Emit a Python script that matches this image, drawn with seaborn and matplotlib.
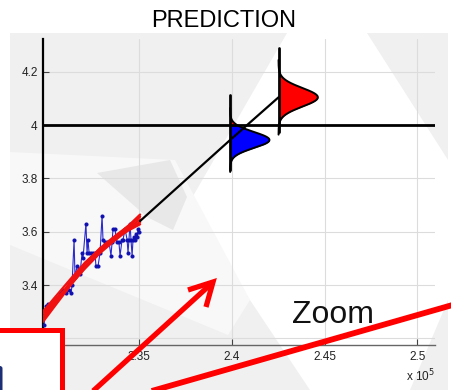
import numpy as np
import pandas as pd
import matplotlib
matplotlib.use("Agg")
import matplotlib.pyplot as plt
from matplotlib.patches import Polygon, Rectangle, FancyBboxPatch
import seaborn as sns

sns.set_theme(style="white")
plt.rcParams["font.family"] = ["Liberation Sans", "DejaVu Sans"]

# ---- data (x in units of 1e5) ----
obs_x = [2.2986, 2.2997, 2.3008, 2.3019, 2.3030, 2.3040, 2.3056, 2.3072, 2.3088, 2.3105,
         2.3121, 2.3132, 2.3137, 2.3148, 2.3153, 2.3164, 2.3175, 2.3180, 2.3191, 2.3196,
         2.3212, 2.3218, 2.3223, 2.3229, 2.3239, 2.3250, 2.3261, 2.3266, 2.3277, 2.3288,
         2.3299, 2.3304, 2.3315, 2.3326, 2.3337, 2.3347, 2.3353, 2.3358, 2.3369, 2.3374,
         2.3380, 2.3390, 2.3396, 2.3407, 2.3412, 2.3423, 2.3434, 2.3439, 2.3444, 2.3450,
         2.3455, 2.3461, 2.3466, 2.3471, 2.3477, 2.3482, 2.3488, 2.3493, 2.3498]
obs_y = [3.25, 3.32, 3.33, 3.32, 3.33, 3.34, 3.35, 3.37, 3.38, 3.37,
         3.38, 3.37, 3.40, 3.57, 3.43, 3.47, 3.46, 3.44, 3.52, 3.50,
         3.63, 3.52, 3.57, 3.52, 3.52, 3.52, 3.52, 3.47, 3.47, 3.52,
         3.66, 3.57, 3.56, 3.56, 3.56, 3.51, 3.56, 3.61, 3.61, 3.58,
         3.56, 3.56, 3.51, 3.57, 3.57, 3.61, 3.57, 3.52, 3.57, 3.63,
         3.57, 3.51, 3.57, 3.58, 3.57, 3.59, 3.58, 3.61, 3.60]

fit_x = [2.2980, 2.3045, 2.3126, 2.3207, 2.3288, 2.3369, 2.3450, 2.3504]
fit_a = [3.262, 3.322, 3.396, 3.466, 3.526, 3.578, 3.628, 3.664]
fit_b = [3.300, 3.354, 3.420, 3.484, 3.536, 3.576, 3.608, 3.628]
fit_c = [3.281, 3.336, 3.404, 3.470, 3.528, 3.576, 3.618, 3.646]
fit_d = [3.270, 3.330, 3.410, 3.480, 3.538, 3.584, 3.626, 3.656]
fit_e = [3.292, 3.344, 3.400, 3.462, 3.520, 3.568, 3.612, 3.636]

trend_x = [2.3504, 2.3990, 2.4251]
trend_y = [3.640, 3.944, 4.104]

dist_x = [2.3990, 2.4251]
dist_mean = [3.944, 4.104]
dist_sd = [0.030, 0.035]
dist_lo = [3.831, 3.974]
dist_hi = [4.112, 4.289]
dist_peak_width = 0.0212
threshold = 4.0

xticks = [2.30, 2.35, 2.40, 2.45, 2.50]
xticklabels = ["2.3", "2.35", "2.4", "2.45", "2.5"]
yticks = [3.2, 3.4, 3.6, 3.8, 4.0, 4.2]
yticklabels = ["3.2", "3.4", "3.6", "3.8", "4", "4.2"]

W, H = 452, 390
fig = plt.figure(figsize=(W / 100, H / 100), dpi=100)
fig.patch.set_facecolor("white")

# ---- slide-style backdrop, in pixel coordinates ----
bg = fig.add_axes([0, 0, 1, 1], zorder=0)
bg.set_xlim(0, W)
bg.set_ylim(H, 0)
bg.axis("off")
bg.add_patch(Rectangle((10, 33), 438, 360, facecolor="#f0f0f0", edgecolor="none"))
bg.add_patch(Polygon([(287, 33), (367, 33), (448, 160), (448, 300), (410, 390),
                      (310, 390), (250, 300), (185, 210)],
                     facecolor="white", edgecolor="none"))
bg.add_patch(Polygon([(10, 152), (175, 160), (250, 300), (228, 335), (10, 245)],
                     facecolor="#f8f8f8", edgecolor="none"))
bg.add_patch(Polygon([(97, 173), (170, 160), (187, 197), (173, 230), (147, 217)],
                     facecolor="#e8e8e8", edgecolor="none"))

# ---- main axes ----
left, right, top, bottom = 43.3, 435, 39, 345
ax = fig.add_axes([left / W, 1 - bottom / H, (right - left) / W, (bottom - top) / H], zorder=1)
ax.set_facecolor("none")
ax.set_xlim(2.2982, 2.5095)
ax.set_ylim(3.175, 4.3227)

for xv in xticks[1:]:
    ax.axvline(xv, color="#dcdcdc", lw=0.8, zorder=0)
for yv in yticks:
    ax.axhline(yv, color="#dcdcdc", lw=0.8, zorder=0)

# observations
obs = pd.DataFrame({"x": obs_x, "y": obs_y})
sns.lineplot(data=obs, x="x", y="y", ax=ax, sort=False, estimator=None,
             color="#2a2ad0", lw=0.8, marker="o", markersize=2.2,
             markerfacecolor="#1010b0", markeredgecolor="#1010b0", zorder=3)

# fitted curves
fits = pd.DataFrame({"x": fit_x * 5,
                     "y": fit_a + fit_b + fit_c + fit_d + fit_e,
                     "run": sum([[k] * len(fit_x) for k in "abcde"], [])})
sns.lineplot(data=fits, x="x", y="y", units="run", estimator=None, sort=False,
             ax=ax, color="#f01010", lw=1.7, zorder=4)

# predictive densities
for xc, mu, sd, lo, hi in zip(dist_x, dist_mean, dist_sd, dist_lo, dist_hi):
    yy = np.linspace(mu - 4 * sd, mu + 4 * sd, 300)
    ww = dist_peak_width * np.exp(-0.5 * ((yy - mu) / sd) ** 2)
    ax.fill_betweenx(yy, xc, xc + ww, where=yy >= threshold, color="#ff0000",
                     lw=0, zorder=5, interpolate=True)
    ax.fill_betweenx(yy, xc, xc + ww, where=yy <= threshold, color="#0000ff",
                     lw=0, zorder=5, interpolate=True)
    ax.plot(xc + ww, yy, color="black", lw=1.4, zorder=6)
    ax.plot([xc, xc], [lo, hi], color="black", lw=2, zorder=7)

# prediction path and threshold
trend = pd.DataFrame({"x": trend_x, "y": trend_y})
sns.lineplot(data=trend, x="x", y="y", ax=ax, sort=False, estimator=None,
             color="black", lw=1.6, zorder=8)
ax.axhline(threshold, color="black", lw=2, zorder=8)

ax.set_xticks(xticks)
ax.set_xticklabels(xticklabels)
ax.set_yticks(yticks)
ax.set_yticklabels(yticklabels)
ax.set_xlabel("")
ax.set_ylabel("")
ax.tick_params(axis="both", direction="in", length=4, width=0.8, color="#444444",
               labelsize=8.5, labelcolor="#222222", pad=4,
               bottom=True, left=True)
for s in ["top", "right"]:
    ax.spines[s].set_visible(False)
ax.spines["left"].set_color("black")
ax.spines["left"].set_linewidth(1.6)
ax.spines["bottom"].set_color("#666666")
ax.spines["bottom"].set_linewidth(1.0)

fig.text(224 / W, 1 - 21 / H, "PREDICTION", ha="center", va="center",
         fontsize=17, color="black")
fig.text(420 / W, 1 - 376 / H, r"x 10$^{5}$", ha="center", va="center",
         fontsize=8.5, color="#222222")
fig.text(292 / W, 1 - 323 / H, "Zoom", ha="left", va="baseline",
         fontsize=23, color="#111111", zorder=20)

# ---- annotation layer ----
ov = fig.add_axes([0, 0, 1, 1], zorder=10)
ov.set_xlim(0, W)
ov.set_ylim(H, 0)
ov.axis("off")
ov.set_facecolor("none")
red = "#ff0000"
ov.plot([92, 211], [392, 284], color=red, lw=3.8, solid_capstyle="butt")
ov.plot([188, 213, 206], [290, 282, 307], color=red, lw=3.8,
        solid_joinstyle="miter", solid_capstyle="butt")
ov.plot([150, 456], [391.5, 304], color=red, lw=4.2, solid_capstyle="butt")
ov.add_patch(Rectangle((-10, 329.5), 72.5, 70, facecolor="white",
                       edgecolor=red, lw=3.6))
# edge of a dark glyph peeking in at the box's left border
ov.add_patch(FancyBboxPatch((-4, 366), 6.5, 30, boxstyle="round,pad=0,rounding_size=2.5",
                            facecolor="#1c2f74", edgecolor="none"))

fig.savefig("out.png", dpi=100)
